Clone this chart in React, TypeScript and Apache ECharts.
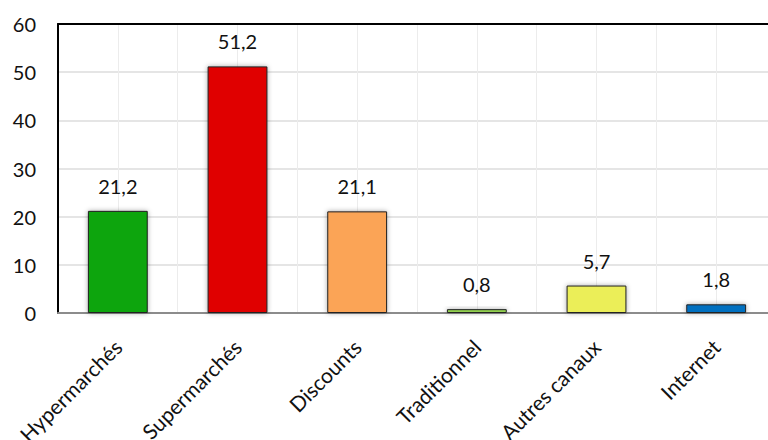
import React, { useEffect, useRef } from "react";
import * as echarts from "echarts";

const categories = ["Hypermarchés", "Supermarchés", "Discounts", "Traditionnel", "Autres canaux", "Internet"];
const values = [21.2, 51.2, 21.1, 0.8, 5.7, 1.8];
const colors = ["#0aa50a", "#e00000", "#fba457", "#92d050", "#ebee58", "#0070c0"];
const yTicks = { min: 0, max: 60, interval: 10 };

export default function App() {
  const ref = useRef<HTMLDivElement>(null);
  useEffect(() => {
    if (!ref.current) return;
    const chart = echarts.init(ref.current, undefined, { renderer: "svg" });
    const font = "Lato, 'Open Sans', sans-serif";
    chart.setOption({
      animation: false,
      backgroundColor: "#ffffff",
      grid: { left: 58, top: 24, bottom: 127, right: 0, containLabel: false, outerBoundsMode: "none" },
      xAxis: [
        {
          type: "category",
          data: categories,
          position: "bottom",
          axisLine: { show: true, lineStyle: { color: "#8c8c8c", width: 2 } },
          axisTick: { show: false },
          splitLine: { show: false },
          axisLabel: {
            rotate: 45,
            margin: 30,
            color: "#111",
            fontSize: 21,
            fontFamily: font,
            interval: 0,
          },
        },
        {
          type: "value",
          position: "top",
          min: 0,
          max: categories.length,
          interval: 0.5,
          axisLine: { show: true, onZero: false, lineStyle: { color: "#000", width: 2 } },
          axisTick: { show: false },
          axisLabel: { show: false },
          splitLine: { show: true, lineStyle: { color: "#ececec", width: 1 } },
        },
      ],
      yAxis: {
        type: "value",
        min: yTicks.min,
        max: yTicks.max,
        interval: yTicks.interval,
        axisLine: { show: true, lineStyle: { color: "#000", width: 2 } },
        axisTick: { show: false },
        axisLabel: { color: "#111", fontSize: 20, fontFamily: font, margin: 22 },
        splitLine: { show: true, lineStyle: { color: "#dcdcdc", width: 1.5 } },
      },
      series: [
        {
          type: "bar",
          xAxisIndex: 0,
          barWidth: "50%",
          data: values.map((v, i) => ({
            value: v,
            itemStyle: {
              color: colors[i],
              borderColor: "#222",
              borderWidth: 1,
              shadowBlur: 5,
              shadowColor: "rgba(0,0,0,0.35)",
            },
          })),
          label: {
            show: true,
            position: "top",
            distance: 15,
            color: "#111",
            fontSize: 20,
            fontFamily: font,
            formatter: (p: any) => String(p.value).replace(".", ","),
          },
        },
      ],
    });
    return () => chart.dispose();
  }, []);
  return (
    <div style={{ position: "fixed", left: 0, top: 0, width: 768, height: 440, overflow: "hidden" }}>
      <div ref={ref} style={{ width: 776, height: 440 }} />
    </div>
  );
}
